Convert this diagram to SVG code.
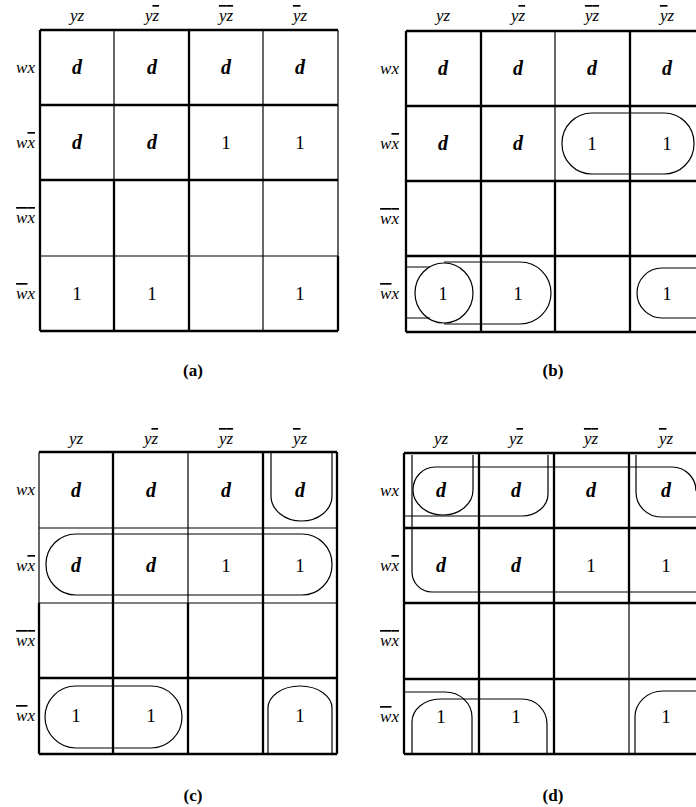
<svg xmlns="http://www.w3.org/2000/svg" width="696" height="807" viewBox="0 0 696 807">
<style>
.bg{fill:#fff}
.tk{stroke:#000;stroke-width:2.3;fill:none}
.tn{stroke:#000;stroke-width:1.2;fill:none}
.lp{stroke:#000;stroke-width:1.2;fill:none}
.hd{font-family:"Liberation Serif",serif;font-style:italic;font-size:17px;text-anchor:middle}
.rl{font-family:"Liberation Serif",serif;font-style:italic;font-size:17px;text-anchor:end}
.d{font-family:"Liberation Serif",serif;font-style:italic;font-weight:bold;font-size:20px;text-anchor:middle}
.one{font-family:"Liberation Serif",serif;font-size:19px;text-anchor:middle}
.cap{font-family:"Liberation Serif",serif;font-weight:bold;font-size:17px;text-anchor:middle}
.ob{text-decoration:overline}
</style>
<rect class="bg" x="0" y="0" width="696" height="807"/>

<!-- Panel A -->
<g id="panel-a">
  <g id="a-grid">
    <line class="tk" x1="40" y1="30" x2="40" y2="331"/>
    <line class="tk" x1="40" y1="30" x2="338" y2="30"/>
    <line class="tn" x1="338" y1="30" x2="338" y2="256"/>
    <line class="tk" x1="338" y1="256" x2="338" y2="331"/>
    <line class="tk" x1="40" y1="331" x2="338" y2="331"/>
    <line class="tn" x1="114" y1="30" x2="114" y2="180"/>
    <line class="tk" x1="114" y1="180" x2="114" y2="331"/>
    <line class="tk" x1="189" y1="30" x2="189" y2="331"/>
    <line class="tn" x1="263" y1="30" x2="263" y2="331"/>
    <line class="tk" x1="40" y1="105" x2="338" y2="105"/>
    <line class="tk" x1="40" y1="180" x2="338" y2="180"/>
    <line class="tn" x1="40" y1="256" x2="338" y2="256"/>
  </g>
  <g id="a-labels">
    <text class="hd" x="77" y="21">yz</text>
    <text class="hd" x="152" y="21">y<tspan class="ob">z</tspan></text>
    <text class="hd" x="226" y="21"><tspan class="ob">y</tspan><tspan class="ob">z</tspan></text>
    <text class="hd" x="300" y="21"><tspan class="ob">y</tspan>z</text>
    <text class="rl" x="35" y="73">wx</text>
    <text class="rl" x="35" y="148">w<tspan class="ob">x</tspan></text>
    <text class="rl" x="35" y="223"><tspan class="ob">w</tspan><tspan class="ob">x</tspan></text>
    <text class="rl" x="35" y="299"><tspan class="ob">w</tspan>x</text>
  </g>
  <g id="a-cells">
    <text class="d" x="77" y="74">d</text>
    <text class="d" x="152" y="74">d</text>
    <text class="d" x="226" y="74">d</text>
    <text class="d" x="300" y="74">d</text>
    <text class="d" x="77" y="149">d</text>
    <text class="d" x="152" y="149">d</text>
    <text class="one" x="226" y="149">1</text>
    <text class="one" x="300" y="149">1</text>
    <text class="one" x="77" y="300">1</text>
    <text class="one" x="152" y="300">1</text>
    <text class="one" x="300" y="300">1</text>
  </g>
  <text class="cap" x="193" y="376">(a)</text>
</g>

<!-- Panel B -->
<g id="panel-b">
  <g id="b-grid">
    <line class="tk" x1="406" y1="31" x2="406" y2="332"/>
    <line class="tk" x1="406" y1="31" x2="696" y2="31"/>
    <line class="tk" x1="406" y1="332" x2="696" y2="332"/>
    <line class="tk" x1="481" y1="31" x2="481" y2="332"/>
    <line class="tn" x1="555" y1="31" x2="555" y2="181"/>
    <line class="tk" x1="555" y1="181" x2="555" y2="332"/>
    <line class="tk" x1="630" y1="31" x2="630" y2="332"/>
    <line class="tk" x1="406" y1="106" x2="696" y2="106"/>
    <line class="tk" x1="406" y1="181" x2="696" y2="181"/>
    <line class="tk" x1="406" y1="256" x2="696" y2="256"/>
  </g>
  <g id="b-labels">
    <text class="hd" x="443" y="21">yz</text>
    <text class="hd" x="518" y="21">y<tspan class="ob">z</tspan></text>
    <text class="hd" x="592" y="21"><tspan class="ob">y</tspan><tspan class="ob">z</tspan></text>
    <text class="hd" x="667" y="21"><tspan class="ob">y</tspan>z</text>
    <text class="rl" x="399" y="74">wx</text>
    <text class="rl" x="399" y="149">w<tspan class="ob">x</tspan></text>
    <text class="rl" x="399" y="224"><tspan class="ob">w</tspan><tspan class="ob">x</tspan></text>
    <text class="rl" x="399" y="299"><tspan class="ob">w</tspan>x</text>
  </g>
  <g id="b-cells">
    <text class="d" x="443" y="75">d</text>
    <text class="d" x="518" y="75">d</text>
    <text class="d" x="592" y="75">d</text>
    <text class="d" x="667" y="75">d</text>
    <text class="d" x="443" y="150">d</text>
    <text class="d" x="518" y="150">d</text>
    <text class="one" x="592" y="150">1</text>
    <text class="one" x="667" y="150">1</text>
    <text class="one" x="443" y="300">1</text>
    <text class="one" x="518" y="300">1</text>
    <text class="one" x="667" y="300">1</text>
  </g>
  <g id="b-loops">
    <rect class="lp" x="562" y="113" width="132" height="61" rx="30" ry="30"/>
    <ellipse class="lp" cx="444" cy="293" rx="29" ry="30"/>
    <path class="lp" d="M444 262 H520 A31 31 0 0 1 520 324 H444"/>
    <path class="lp" d="M406 267 H430 M406 318 H430"/>
    <path class="lp" d="M696 268 H662 A25 25 0 0 0 662 318 H696"/>
  </g>
  <text class="cap" x="553" y="376">(b)</text>
</g>

<!-- Panel C -->
<g id="panel-c">
  <g id="c-grid">
    <line class="tn" x1="39" y1="452" x2="39" y2="603"/>
    <line class="tk" x1="39" y1="603" x2="39" y2="754"/>
    <line class="tk" x1="39" y1="452" x2="337" y2="452"/>
    <line class="tk" x1="337" y1="452" x2="337" y2="754"/>
    <line class="tk" x1="39" y1="754" x2="337" y2="754"/>
    <line class="tk" x1="113" y1="452" x2="113" y2="754"/>
    <line class="tn" x1="188" y1="452" x2="188" y2="603"/>
    <line class="tk" x1="188" y1="603" x2="188" y2="754"/>
    <line class="tk" x1="263" y1="452" x2="263" y2="754"/>
    <line class="tn" x1="39" y1="528" x2="337" y2="528"/>
    <line class="tn" x1="39" y1="603" x2="337" y2="603"/>
    <line class="tk" x1="39" y1="678" x2="337" y2="678"/>
  </g>
  <g id="c-labels">
    <text class="hd" x="76" y="444">yz</text>
    <text class="hd" x="151" y="444">y<tspan class="ob">z</tspan></text>
    <text class="hd" x="226" y="444"><tspan class="ob">y</tspan><tspan class="ob">z</tspan></text>
    <text class="hd" x="300" y="444"><tspan class="ob">y</tspan>z</text>
    <text class="rl" x="35" y="495">wx</text>
    <text class="rl" x="35" y="571">w<tspan class="ob">x</tspan></text>
    <text class="rl" x="35" y="646"><tspan class="ob">w</tspan><tspan class="ob">x</tspan></text>
    <text class="rl" x="35" y="721"><tspan class="ob">w</tspan>x</text>
  </g>
  <g id="c-cells">
    <text class="d" x="76" y="497">d</text>
    <text class="d" x="151" y="497">d</text>
    <text class="d" x="226" y="497">d</text>
    <text class="d" x="300" y="497">d</text>
    <text class="d" x="76" y="572">d</text>
    <text class="d" x="151" y="572">d</text>
    <text class="one" x="226" y="572">1</text>
    <text class="one" x="300" y="572">1</text>
    <text class="one" x="76" y="722">1</text>
    <text class="one" x="151" y="722">1</text>
    <text class="one" x="300" y="722">1</text>
  </g>
  <g id="c-loops">
    <path class="lp" d="M271 452 V496 A30.5 25 0 0 0 332 496 V452"/>
    <rect class="lp" x="46" y="534" width="286" height="61" rx="30" ry="30"/>
    <rect class="lp" x="45" y="686" width="137" height="62" rx="31" ry="31"/>
    <path class="lp" d="M268 754 V708 A32 22 0 0 1 332 708 V754"/>
  </g>
  <text class="cap" x="193" y="801">(c)</text>
</g>

<!-- Panel D -->
<g id="panel-d">
  <g id="d-grid">
    <line class="tk" x1="404" y1="453" x2="404" y2="754"/>
    <line class="tk" x1="404" y1="453" x2="696" y2="453"/>
    <line class="tk" x1="404" y1="754" x2="696" y2="754"/>
    <line class="tk" x1="479" y1="453" x2="479" y2="754"/>
    <line class="tk" x1="554" y1="453" x2="554" y2="754"/>
    <line class="tk" x1="629" y1="453" x2="629" y2="603"/>
    <line class="tn" x1="629" y1="603" x2="629" y2="754"/>
    <line class="tk" x1="404" y1="528" x2="696" y2="528"/>
    <line class="tk" x1="404" y1="603" x2="696" y2="603"/>
    <line class="tk" x1="404" y1="679" x2="696" y2="679"/>
  </g>
  <g id="d-labels">
    <text class="hd" x="441" y="444">yz</text>
    <text class="hd" x="516" y="444">y<tspan class="ob">z</tspan></text>
    <text class="hd" x="591" y="444"><tspan class="ob">y</tspan><tspan class="ob">z</tspan></text>
    <text class="hd" x="666" y="444"><tspan class="ob">y</tspan>z</text>
    <text class="rl" x="399" y="496">wx</text>
    <text class="rl" x="399" y="571">w<tspan class="ob">x</tspan></text>
    <text class="rl" x="399" y="646"><tspan class="ob">w</tspan><tspan class="ob">x</tspan></text>
    <text class="rl" x="399" y="722"><tspan class="ob">w</tspan>x</text>
  </g>
  <g id="d-cells">
    <text class="d" x="441" y="497">d</text>
    <text class="d" x="516" y="497">d</text>
    <text class="d" x="591" y="497">d</text>
    <text class="d" x="666" y="497">d</text>
    <text class="d" x="441" y="572">d</text>
    <text class="d" x="516" y="572">d</text>
    <text class="one" x="591" y="572">1</text>
    <text class="one" x="666" y="572">1</text>
    <text class="one" x="441" y="723">1</text>
    <text class="one" x="516" y="723">1</text>
    <text class="one" x="666" y="723">1</text>
  </g>
  <g id="d-loops">
    <path class="lp" d="M412 455 V572 A20 20 0 0 0 432 592 H696"/>
    <path class="lp" d="M435 467 H672 A24 24 0 0 1 696 491"/>
    <path class="lp" d="M473 455 V490 A30 25 0 0 1 413 490 A22 23 0 0 1 435 467"/>
    <path class="lp" d="M404 516 H522 A26 22 0 0 0 548 494 V455"/>
    <path class="lp" d="M636 455 V492 A25 25 0 0 0 661 517 H696"/>
    <path class="lp" d="M404 692 H445 A27 25 0 0 1 472 717 V754"/>
    <path class="lp" d="M412 754 V722 A28 23 0 0 1 440 699 H522 A25 25 0 0 1 547 724 V754"/>
    <path class="lp" d="M635 754 V717 A28 26 0 0 1 663 691 H696"/>
  </g>
  <text class="cap" x="553" y="801">(d)</text>
</g>
</svg>
